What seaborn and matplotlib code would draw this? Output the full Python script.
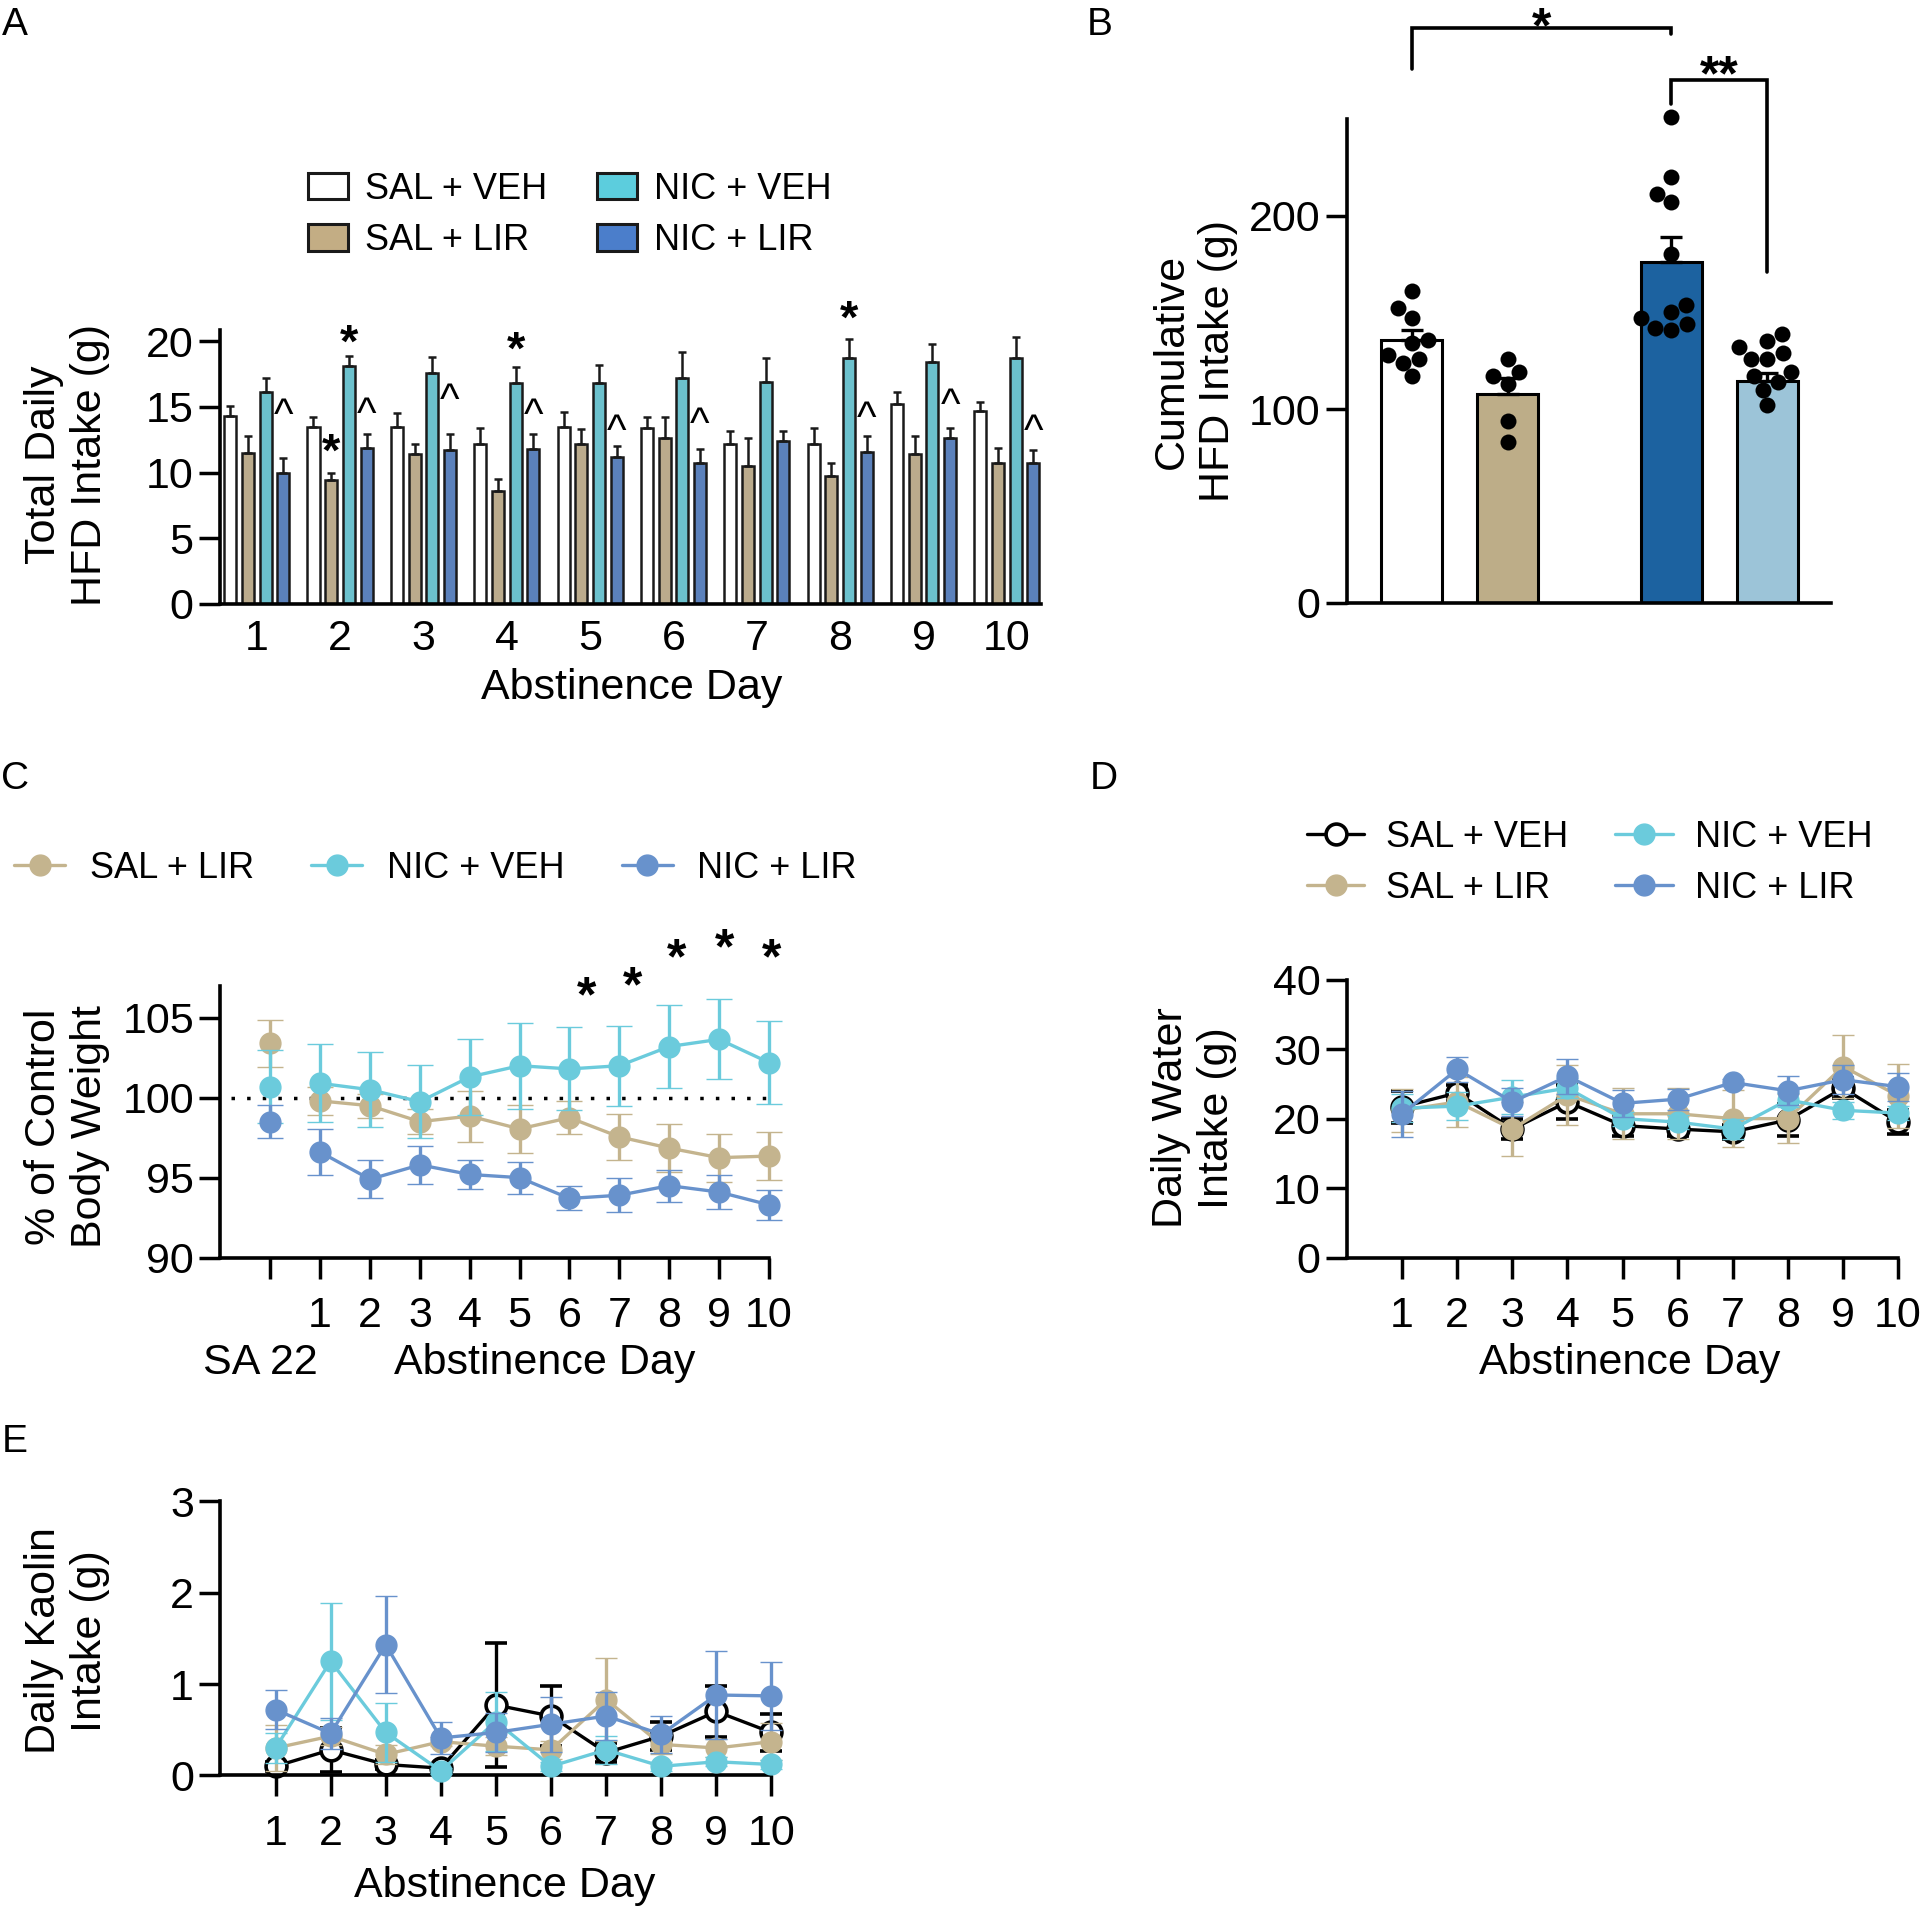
import numpy as np
import pandas as pd
import matplotlib
matplotlib.use("Agg")
import matplotlib.pyplot as plt
from matplotlib.patches import Patch
from matplotlib.lines import Line2D
import seaborn as sns

sns.set_style("ticks", {"axes.edgecolor": "black", "xtick.color": "black",
                        "ytick.color": "black", "text.color": "black",
                        "axes.labelcolor": "black"})
plt.rcParams["font.family"] = ["Liberation Sans", "DejaVu Sans"]

# ---------------- data ----------------
groups = ["SAL + VEH", "SAL + LIR", "NIC + VEH", "NIC + LIR"]
days = list(range(1, 11))

# A - total daily HFD intake (g), mean and SEM
hfd_sal_veh = [14.3, 13.5, 13.5, 12.2, 13.5, 13.4, 12.2, 12.2, 15.2, 14.7]
hfd_sal_veh_sem = [0.8, 0.7, 1.0, 1.2, 1.1, 0.8, 1.0, 1.2, 0.9, 0.7]
hfd_sal_lir = [11.5, 9.45, 11.4, 8.6, 12.2, 12.6, 10.5, 9.7, 11.4, 10.7]
hfd_sal_lir_sem = [1.3, 0.55, 0.8, 0.9, 1.1, 1.6, 2.1, 1.05, 1.4, 1.2]
hfd_nic_veh = [16.1, 18.1, 17.6, 16.8, 16.8, 17.2, 16.9, 18.7, 18.4, 18.75]
hfd_nic_veh_sem = [1.1, 0.8, 1.2, 1.2, 1.4, 2.0, 1.8, 1.5, 1.4, 1.55]
hfd_nic_lir = [10.0, 11.9, 11.7, 11.8, 11.2, 10.7, 12.4, 11.6, 12.6, 10.7]
hfd_nic_lir_sem = [1.1, 1.0, 1.2, 1.1, 0.8, 1.1, 0.8, 1.2, 0.8, 1.0]

# significance marks in A
a_star_days = [2, 4, 8]
a_star_y = [20.83, 20.33, 22.7]
a_sl_star_day = 2
a_sl_star_y = 12.55
a_caret_days = [1, 2, 3, 4, 5, 6, 8, 9, 10]
a_caret_y = [15.0, 15.1, 16.2, 15.0, 13.8, 14.3, 14.8, 15.8, 13.8]

# B - cumulative HFD intake, individual animals
cum_sal_veh = [161, 152, 147, 135.5, 134, 128, 126, 124, 117]
cum_sal_lir = [117, 119, 126, 113, 94, 83]
cum_nic_veh = [251, 220, 211, 207, 180, 154, 150, 147, 142, 144, 141]
cum_nic_lir = [139, 135, 132, 129, 126, 126, 119, 117, 114, 110, 102]
cum_mean = [135.5, 108, 176, 114.5]
cum_sem = [5.5, 8, 13, 4.4]

# C - % of control body weight (SA 22, then abstinence days 1-10)
bw_pos = [0] + days
bw_sal_lir = [103.4, 99.8, 99.5, 98.5, 98.85, 98.05, 98.75, 97.55, 96.85, 96.25, 96.35]
bw_sal_lir_sem = [1.45, 0.9, 0.75, 0.8, 1.6, 1.5, 1.05, 1.45, 1.5, 1.5, 1.5]
bw_nic_veh = [100.7, 100.9, 100.5, 99.75, 101.3, 102.0, 101.8, 102.0, 103.2, 103.65, 102.2]
bw_nic_veh_sem = [2.3, 2.45, 2.35, 2.3, 2.4, 2.7, 2.6, 2.5, 2.6, 2.5, 2.6]
bw_nic_lir = [98.5, 96.6, 94.9, 95.8, 95.2, 95.0, 93.7, 93.9, 94.5, 94.1, 93.3]
bw_nic_lir_sem = [1.05, 1.45, 1.2, 1.2, 0.9, 1.0, 0.75, 1.05, 1.0, 1.05, 0.95]
c_star_x = [6.35, 7.26, 8.14, 9.12, 10.05]
c_star_y = [107.16, 107.78, 109.55, 110.17, 109.55]

# D - daily water intake (g)
water_sal_veh = [21.7, 23.7, 18.5, 22.4, 19.0, 18.5, 18.1, 19.8, 24.4, 19.5]
water_sal_veh_sem = [2.3, 1.2, 1.5, 2.4, 1.5, 1.0, 1.0, 2.3, 1.5, 1.7]
water_sal_lir = [21.2, 22.4, 18.5, 23.4, 20.7, 20.7, 20.0, 20.0, 27.5, 23.3]
water_sal_lir_sem = [3.1, 3.6, 3.9, 4.3, 3.7, 3.7, 4.1, 3.5, 4.6, 4.6]
water_nic_veh = [21.5, 21.8, 23.1, 24.4, 20.0, 19.5, 18.5, 22.7, 21.2, 20.8]
water_nic_veh_sem = [2.0, 2.0, 2.4, 1.5, 1.0, 1.0, 1.5, 1.0, 1.2, 1.0]
water_nic_lir = [20.7, 27.1, 22.4, 26.1, 22.2, 22.8, 25.2, 24.0, 25.6, 24.6]
water_nic_lir_sem = [3.3, 1.8, 2.0, 2.5, 1.9, 1.5, 0.5, 2.1, 2.1, 2.0]

# E - daily kaolin intake (g)
kaolin_sal_veh = [0.10, 0.28, 0.12, 0.08, 0.77, 0.65, 0.25, 0.43, 0.70, 0.47]
kaolin_sal_veh_sem = [0.05, 0.24, 0.05, 0.05, 0.68, 0.33, 0.10, 0.15, 0.28, 0.20]
kaolin_sal_lir = [0.30, 0.43, 0.23, 0.37, 0.32, 0.28, 0.83, 0.34, 0.30, 0.37]
kaolin_sal_lir_sem = [0.25, 0.10, 0.10, 0.05, 0.10, 0.10, 0.45, 0.10, 0.10, 0.20]
kaolin_nic_veh = [0.30, 1.25, 0.47, 0.05, 0.59, 0.10, 0.28, 0.10, 0.15, 0.12]
kaolin_nic_veh_sem = [0.16, 0.64, 0.32, 0.03, 0.32, 0.05, 0.15, 0.05, 0.05, 0.05]
kaolin_nic_lir = [0.72, 0.46, 1.43, 0.41, 0.47, 0.56, 0.65, 0.45, 0.88, 0.87]
kaolin_nic_lir_sem = [0.21, 0.17, 0.53, 0.17, 0.21, 0.30, 0.26, 0.20, 0.48, 0.37]

# colours
bar_colors_A = ["#ffffff", "#c3ad84", "#5ccddd", "#4b7ecb"]
bar_colors_B = ["#ffffff", "#bdad88", "#1c62a0", "#9cc4d8"]
tan, cyan, blue = "#c4b48e", "#6bcbdc", "#6892cc"

TICK = 31
LABEL = 31
LEG = 26


def style(ax):
    sns.despine(ax=ax)
    for s in ["left", "bottom"]:
        ax.spines[s].set_linewidth(2.6)
        ax.spines[s].set_color("black")
    ax.tick_params(width=2.5, length=15, labelsize=TICK, colors="black")
    ax.tick_params(axis="y", pad=4)
    ax.tick_params(axis="x", pad=13)


def labels(ax, xl, yl, xpos, ypos):
    if xl:
        ax.set_xlabel(xl, fontsize=LABEL, va="center")
        ax.xaxis.set_label_coords(*xpos)
    else:
        ax.set_xlabel("")
    ax.set_ylabel(yl, fontsize=LABEL, va="center", ha="center")
    ax.yaxis.set_label_coords(*ypos)


def mark(ax, x, y, s, size, shift):
    ax.annotate(s, (x, y), xytext=(0, -shift * size), textcoords="offset points",
                ha="center", va="center", fontsize=size, fontweight="bold",
                annotation_clip=False)


fig = plt.figure(figsize=(19.2, 19.13), dpi=100)
axA = fig.add_axes([0.1146, 0.6843, 0.4276, 0.1432])
axB = fig.add_axes([0.7016, 0.685, 0.252, 0.2529])
axC = fig.add_axes([0.1148, 0.3426, 0.2857, 0.1421])
axD = fig.add_axes([0.7016, 0.3426, 0.287, 0.1453])
axE = fig.add_axes([0.1148, 0.0719, 0.287, 0.1434])

# ---------------- A ----------------
a_means = [hfd_sal_veh, hfd_sal_lir, hfd_nic_veh, hfd_nic_lir]
a_sems = [hfd_sal_veh_sem, hfd_sal_lir_sem, hfd_nic_veh_sem, hfd_nic_lir_sem]
dfA = pd.DataFrame({
    "day": np.tile(days, 4),
    "group": np.repeat(groups, len(days)),
    "intake": np.concatenate(a_means),
})
sns.barplot(data=dfA, x="day", y="intake", hue="group", hue_order=groups,
            palette=bar_colors_A, errorbar=None, width=0.85, gap=0.32,
            edgecolor="#1a1a1a", linewidth=1.8, legend=False, ax=axA)
bars = sorted([p for p in axA.patches if p.get_height() > 0], key=lambda p: p.get_x())
sem_order = [a_sems[g][d] for d in range(len(days)) for g in range(4)]
bx = [p.get_x() + p.get_width() / 2 for p in bars]
by = [p.get_height() for p in bars]
axA.errorbar(bx, by, yerr=[np.zeros(len(by)), sem_order], fmt="none",
             ecolor="#1a1a1a", elinewidth=1.8, capsize=2.8, capthick=1.8, zorder=3)
style(axA)
axA.tick_params(axis="x", length=0, pad=11)
axA.set_xlim(-0.44, 9.41)
axA.set_ylim(0, 20.85)
axA.set_yticks([0, 5, 10, 15, 20])
labels(axA, "Abstinence Day", "Total Daily\nHFD Intake (g)", (0.502, -0.307), (-0.186, 0.507))
slot = 0.85 / 4
for d, y in zip(a_star_days, a_star_y):
    mark(axA, d - 1 + 0.5 * slot, y, "*", 34, 0.31)
mark(axA, a_sl_star_day - 1 - 0.5 * slot, a_sl_star_y, "*", 34, 0.31)
for d, y in zip(a_caret_days, a_caret_y):
    axA.annotate("^", (d - 1 + 1.5 * slot, y), xytext=(0, -0.25 * 30),
                 textcoords="offset points", ha="center", va="center", fontsize=30)
handlesA = [Patch(facecolor=c, edgecolor="#1a1a1a", linewidth=2.2) for c in bar_colors_A]
axA.legend(handlesA, groups, ncol=2, loc="center", bbox_to_anchor=(0.426, 1.42),
           frameon=False, fontsize=LEG, handlelength=1.1, handleheight=0.75,
           handletextpad=0.47, columnspacing=1.39, labelspacing=0.45, borderpad=0)

# ---------------- B ----------------
pos_B = [0, 1, 2.7, 3.7]
axB.bar(pos_B, cum_mean, width=0.63, color=bar_colors_B, edgecolor="black",
        linewidth=2.2, zorder=2)
axB.errorbar(pos_B, cum_mean, yerr=[np.zeros(4), cum_sem], fmt="none", ecolor="black",
             elinewidth=2.4, capsize=8, capthick=2.4, zorder=3)
cum_all = [cum_sal_veh, cum_sal_lir, cum_nic_veh, cum_nic_lir]
dfB = pd.DataFrame({
    "pos": np.concatenate([[p] * len(v) for p, v in zip(pos_B, cum_all)]),
    "value": np.concatenate(cum_all),
})
sns.swarmplot(data=dfB, x="pos", y="value", native_scale=True, color="black",
              size=11.5, ax=axB, zorder=4, warn_thresh=1)
for coll in axB.collections:
    coll.set_clip_on(False)
style(axB)
axB.set_xticks([])
axB.set_xlim(-0.67, 4.36)
axB.set_ylim(0, 250)
axB.set_yticks([0, 100, 200])
labels(axB, "", "Cumulative\nHFD Intake (g)", None, (-0.314, 0.4993))
bracket1_x, bracket1_y = [0, 0, 2.7, 2.7], [275.5, 297, 297, 294]
bracket2_x, bracket2_y = [2.7, 2.7, 3.7, 3.7], [257.8, 270, 270, 170.8]
for bxs, bys in [(bracket1_x, bracket1_y), (bracket2_x, bracket2_y)]:
    axB.plot(bxs, bys, color="black", lw=2.6, clip_on=False, solid_joinstyle="miter")
mark(axB, 1.35, 304, "*", 36, 0.31)
mark(axB, 3.2, 279.6, "**", 36, 0.31)


# ---------------- line panels ----------------
def series(ax, x, y, e, color, cap, z, open_marker=False, join=True):
    mfc = "white" if open_marker else color
    mec = "black" if open_marker else color
    ax.errorbar(x, y, yerr=e, fmt="-o" if join else "o", color=color, ecolor=color,
                lw=2.4, elinewidth=2.4, capsize=cap, capthick=2.5, markersize=15,
                mfc=mfc, mec=mec, mew=2.6 if open_marker else 1, zorder=z,
                clip_on=False)


# C
for vals, sems, col, z in [(bw_sal_lir, bw_sal_lir_sem, tan, 3),
                           (bw_nic_veh, bw_nic_veh_sem, cyan, 4),
                           (bw_nic_lir, bw_nic_lir_sem, blue, 5)]:
    series(axC, bw_pos[:1], vals[:1], sems[:1], col, 9.5, z, join=False)
    series(axC, bw_pos[1:], vals[1:], sems[1:], col, 9.5, z)
axC.plot([-0.78, 10], [100, 100], color="black", lw=2.5, ls=(0, (1, 3.5)), zorder=2)
style(axC)
axC.set_xlim(-1, 10)
axC.set_ylim(90, 107)
axC.set_yticks([90, 95, 100, 105])
axC.set_xticks(bw_pos)
axC.set_xticklabels([""] + [str(d) for d in days])
labels(axC, "Abstinence Day", "% of Control\nBody Weight", (0.592, -0.388), (-0.28, 0.482))
axC.text(0.072, -0.388, "SA 22", transform=axC.transAxes, ha="center", va="center",
         fontsize=LABEL)
for x, y in zip(c_star_x, c_star_y):
    mark(axC, x, y, "*", 36, 0.31)
handlesC = [Line2D([0], [0], color=c, lw=2.4, marker="o", markersize=15, mfc=c, mec=c)
            for c in [tan, cyan, blue]]
axC.legend(handlesC, groups[1:], ncol=3, loc="center", bbox_to_anchor=(0.392, 1.433),
           frameon=False, fontsize=LEG, handlelength=1.42, handletextpad=0.68,
           columnspacing=1.58, borderpad=0, numpoints=1)

# D
for vals, sems, col, z, op in [(water_sal_veh, water_sal_veh_sem, "black", 2, True),
                               (water_sal_lir, water_sal_lir_sem, tan, 3, False),
                               (water_nic_veh, water_nic_veh_sem, cyan, 4, False),
                               (water_nic_lir, water_nic_lir_sem, blue, 5, False)]:
    series(axD, days, vals, sems, col, 8, z, open_marker=op)
style(axD)
axD.set_xlim(0, 10)
axD.set_ylim(0, 40)
axD.set_yticks([0, 10, 20, 30, 40])
axD.set_xticks(days)
labels(axD, "Abstinence Day", "Daily Water\nIntake (g)", (0.512, -0.379), (-0.278, 0.502))
line_colors = ["black", tan, cyan, blue]
handlesD = [Line2D([0], [0], color=c, lw=2.4, marker="o", markersize=15,
                   mfc="white" if i == 0 else c, mec=c, mew=2.6 if i == 0 else 1)
            for i, c in enumerate(line_colors)]
axD.legend(handlesD, groups, ncol=2, loc="center", bbox_to_anchor=(0.44, 1.42),
           frameon=False, fontsize=LEG, handlelength=1.6, handletextpad=0.6,
           columnspacing=1.3, labelspacing=0.45, borderpad=0, numpoints=1)

# E
for vals, sems, col, z, op in [(kaolin_sal_veh, kaolin_sal_veh_sem, "black", 2, True),
                               (kaolin_sal_lir, kaolin_sal_lir_sem, tan, 3, False),
                               (kaolin_nic_veh, kaolin_nic_veh_sem, cyan, 4, False),
                               (kaolin_nic_lir, kaolin_nic_lir_sem, blue, 5, False)]:
    series(axE, days, vals, sems, col, 8, z, open_marker=op)
style(axE)
axE.set_xlim(0, 10)
axE.set_ylim(0, 3)
axE.set_yticks([0, 1, 2, 3])
axE.set_xticks(days)
labels(axE, "Abstinence Day", "Daily Kaolin\nIntake (g)", (0.516, -0.403), (-0.278, 0.49))

# panel letters
for letter, x, y in [("A", 0.0078, 0.987), ("B", 0.573, 0.987), ("C", 0.0078, 0.593),
                     ("D", 0.575, 0.593), ("E", 0.0078, 0.246)]:
    fig.text(x, y, letter, fontsize=28, ha="center", va="center")

fig.savefig("out.png", dpi=100)
